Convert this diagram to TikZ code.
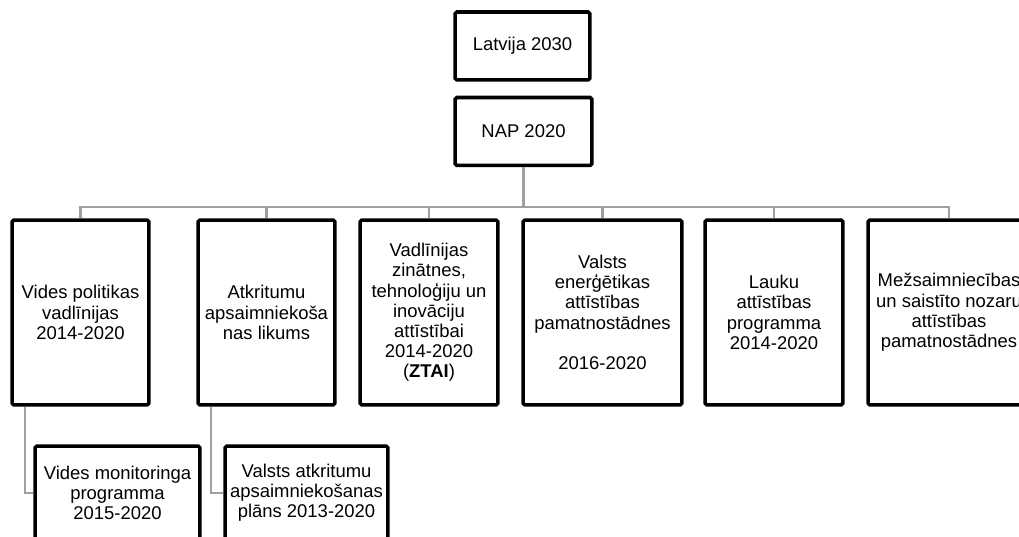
\documentclass[tikz,border=0pt]{standalone}
\usepackage{fontspec}
\setmainfont{Liberation Sans}

\begin{document}
\begin{tikzpicture}[x=0.02cm, y=-0.02cm,
    box/.style={draw, line width=2pt, rounded corners=1pt, fill=white, align=center, inner sep=0pt, font=\fontsize{10.5}{11.5}\selectfont},
    conn/.style={draw=gray!75, line width=1.3pt}]
    \useasboundingbox (0,0) rectangle (1019,537);
    \clip (0,0) rectangle (1019,537);

    \node[box, minimum width=2.7cm, minimum height=1.36cm] (lat) at (522.5,46) {Latvija 2030};
    \node[box, minimum width=2.74cm, minimum height=1.36cm] (nap) at (523.5,131.5) {NAP 2020};

    \node[box, minimum width=2.74cm, minimum height=3.7cm] (vides) at (80.5,312.5) {Vides politikas\\vadlīnijas\\2014-2020};
    \node[box, minimum width=2.74cm, minimum height=3.7cm] (atkr) at (266.5,312.5) {Atkritumu\\apsaimniekoša\\nas likums};
    \node[box, minimum width=2.76cm, minimum height=3.7cm] (ztai) at (429,312.5) {Vadlīnijas\\zinātnes,\\tehnoloģiju un\\inovāciju\\attīstībai\\2014-2020\\(\textbf{ZTAI})};
    \node[box, minimum width=3.18cm, minimum height=3.7cm] (energ) at (602.5,312.5) {Valsts\\enerģētikas\\attīstības\\pamatnostādnes\\[11.5pt]2016-2020};
    \node[box, minimum width=2.76cm, minimum height=3.7cm] (lauku) at (774,312.5) {Lauku\\attīstības\\programma\\2014-2020};
    \node[box, minimum width=3.24cm, minimum height=3.7cm] (mezs) at (949,312.5) {Mežsaimniecības\\un saistīto nozaru\\attīstības\\pamatnostādnes};

    \node[box, minimum width=3.3cm, minimum height=1.88cm] (monit) at (117.5,493) {Vides monitoringa\\programma\\2015-2020};
    \node[box, minimum width=3.26cm, minimum height=1.88cm] (plans) at (306.5,493) {Valsts atkritumu\\apsaimniekošanas\\plāns 2013-2020};

    % tree
    \coordinate (bus) at (523.5,207);
    \draw[conn] (nap.south) -- (bus);
    \foreach \n in {vides,atkr,ztai,energ,lauku,mezs}
        \draw[conn] (bus) -| (\n.north);

    \draw[conn] ([xshift=0.3cm]vides.south west) |- (monit.west);
    \draw[conn] ([xshift=0.3cm]atkr.south west) |- (plans.west);
\end{tikzpicture}
\end{document}
